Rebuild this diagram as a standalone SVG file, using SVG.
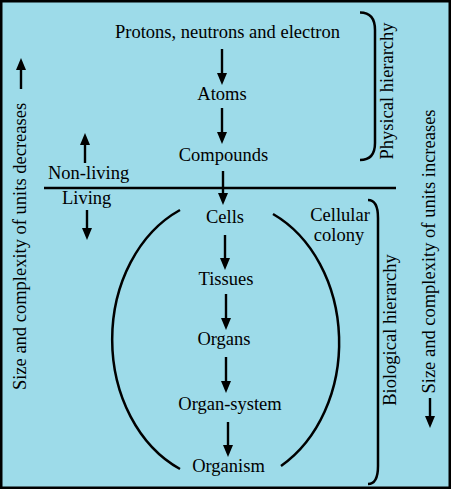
<svg xmlns="http://www.w3.org/2000/svg" width="451" height="489" viewBox="0 0 451 489" font-family="'Liberation Serif', 'DejaVu Serif', serif" font-size="18.5">
<defs>
<style>
text{font-family:'Liberation Serif','DejaVu Serif',serif;font-size:18.5px;fill:#000}
.c{text-anchor:middle}
.ln{stroke:#000;stroke-width:2.4;fill:none}
.br{stroke:#000;stroke-width:2.5;fill:none}
</style>
<marker id="ah" markerWidth="13" markerHeight="11" refX="7" refY="5.5" orient="auto" markerUnits="userSpaceOnUse">
<path d="M0,0.5 L12,5.5 L0,10.5 Z" fill="#000"/>
</marker>
</defs>
<rect x="1.25" y="1.25" width="448.5" height="486.5" fill="#9ddbe9" stroke="#000" stroke-width="2.5"/>

<g id="connectors">
<line class="ln" x1="222" y1="49" x2="222" y2="80" marker-end="url(#ah)"/>
<line class="ln" x1="222" y1="108" x2="222" y2="139" marker-end="url(#ah)"/>
<line class="ln" x1="223" y1="171" x2="223" y2="200" marker-end="url(#ah)"/>
<line class="ln" x1="225" y1="235" x2="225" y2="265" marker-end="url(#ah)"/>
<line class="ln" x1="226" y1="294" x2="226" y2="325" marker-end="url(#ah)"/>
<line class="ln" x1="226" y1="357" x2="226" y2="388" marker-end="url(#ah)"/>
<line class="ln" x1="228" y1="422" x2="228" y2="452" marker-end="url(#ah)"/>
</g>

<g id="divider">
<line class="ln" x1="44" y1="188" x2="396" y2="188"/>
</g>

<g id="cellular-colony-arcs">
<path class="br" d="M180,210 A115,142 0 0,0 180,469"/>
<path class="br" d="M273,214 A115,142 0 0,1 281,466"/>
</g>

<g id="node-protons"><text class="c" x="227.5" y="38">Protons, neutrons and electron</text></g>
<g id="node-atoms"><text class="c" x="222" y="100">Atoms</text></g>
<g id="node-compounds"><text class="c" x="223.5" y="161">Compounds</text></g>
<g id="node-cells"><text class="c" x="225" y="223">Cells</text></g>
<g id="node-tissues"><text class="c" x="226" y="285">Tissues</text></g>
<g id="node-organs"><text class="c" x="224" y="345">Organs</text></g>
<g id="node-organ-system"><text class="c" x="230" y="410">Organ-system</text></g>
<g id="node-organism"><text class="c" x="228.5" y="472">Organism</text></g>

<g id="label-cellular-colony">
<text class="c" x="340" y="221">Cellular</text>
<text class="c" x="339" y="241">colony</text>
</g>

<g id="label-nonliving">
<text x="48" y="179">Non-living</text>
<line class="ln" x1="85" y1="163" x2="85" y2="138" marker-end="url(#ah)"/>
</g>
<g id="label-living">
<text x="62" y="204">Living</text>
<line class="ln" x1="87" y1="210" x2="87" y2="235" marker-end="url(#ah)"/>
</g>

<g id="physical-hierarchy">
<path class="br" d="M360,12.5 Q375,12.5 375,30 L375,143 Q375,160 360,160"/>
<text class="c" transform="translate(393,91) rotate(-90)">Physical hierarchy</text>
</g>

<g id="biological-hierarchy">
<path class="br" d="M368,200 Q378,200 378,218 L378,466 Q378,484 368,484"/>
<text class="c" transform="translate(396,330) rotate(-90)">Biological hierarchy</text>
</g>

<g id="left-axis">
<text class="c" transform="translate(26,246.5) rotate(-90)">Size and complexity of units decreases</text>
<line class="ln" x1="21" y1="89" x2="21" y2="63" marker-end="url(#ah)"/>
</g>

<g id="right-axis">
<text class="c" transform="translate(435,251.5) rotate(-90)">Size and complexity of units increases</text>
<line class="ln" x1="430" y1="398" x2="430" y2="423" marker-end="url(#ah)"/>
</g>
</svg>
